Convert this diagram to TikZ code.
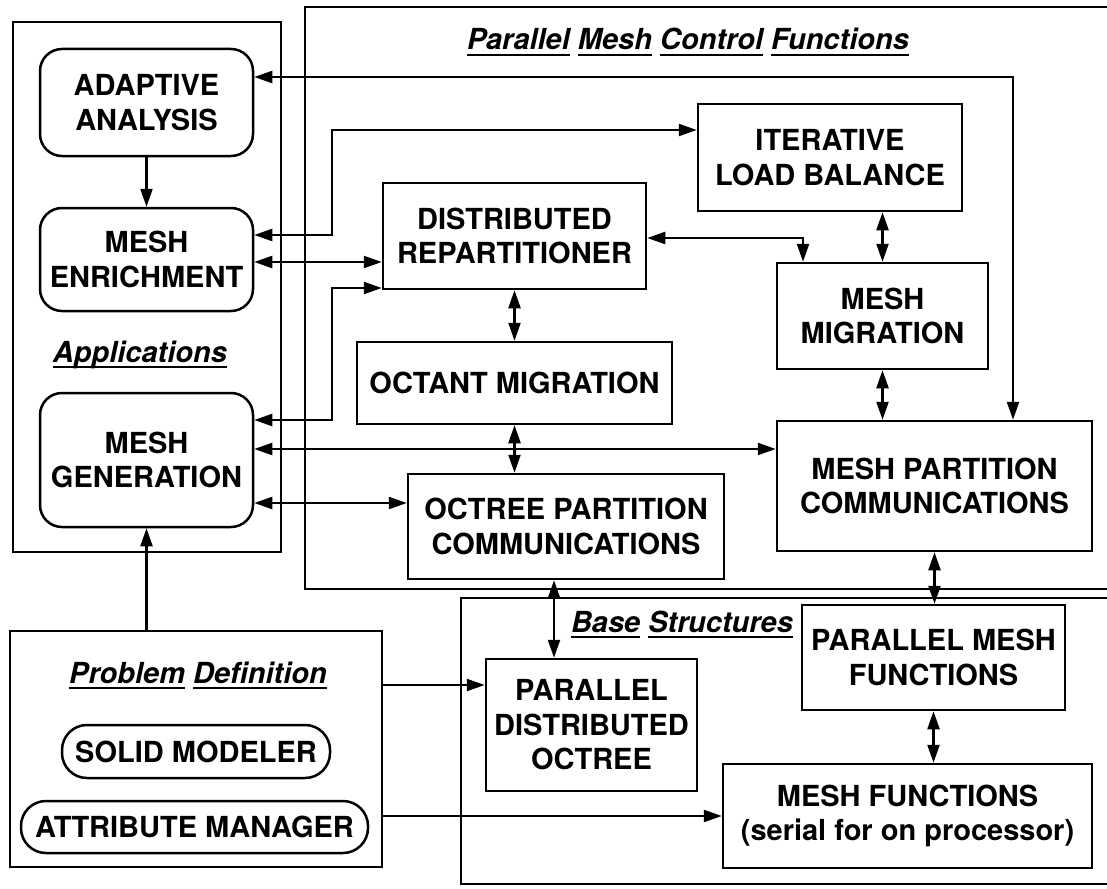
\documentclass[tikz,border=0pt]{standalone}
\usepackage{fontspec}
\setmainfont{TeX Gyre Heros}
\usetikzlibrary{arrows.meta}
\newcommand\lblfont{\fontsize{29}{34.5}\selectfont\bfseries}
\newcommand\uw[1]{\setbox0\hbox{#1}\rlap{\rule[-6pt]{\wd0}{2pt}}\box0{}}
\tikzset{
  mytip/.tip={Triangle[length=18pt,width=12pt]},
  box/.style={draw, line width=2.5pt, inner sep=0pt, align=center, font=\lblfont},
  rbox/.style={box, rounded corners=22pt},
  pill/.style={box, rounded corners=25pt},
  frame/.style={draw, line width=2.5pt},
  title/.style={font=\fontsize{29}{34}\selectfont\bfseries\itshape, anchor=base, inner sep=0pt},
  arr/.style={line width=2.3pt, -mytip},
  darr/.style={line width=2.3pt, mytip-mytip},
}
\begin{document}
\begin{tikzpicture}[x=1pt,y=-1pt]
\useasboundingbox (0,0) rectangle (1107,888);
\fill[white] (0,0) rectangle (1107,888);

% frames
\node[box, minimum width=268, minimum height=530] (APP) at (147,287) {};
\draw[frame] (1107,7) -- (305,7) -- (305,589) -- (1107,589);
\draw[frame] (1107,598) -- (461,598) -- (461,884) -- (1107,884);
\node[box, minimum width=372, minimum height=236] (PD) at (196,749) {};

% titles
\node[title] (tpmc) at (688,50) {\uw{Parallel} \uw{Mesh} \uw{Control} \uw{Functions}};
\node[title] (tapp) at (140,362) {\uw{Applications}};
\node[title] (tbase) at (682,632) {\uw{Base} \uw{Structures}};
\node[title] (tpd) at (198,683) {\uw{Problem} \uw{Definition}};

% nodes
\node[rbox, minimum width=213, minimum height=107] (AA) at (146.5,102.5) {ADAPTIVE\\ANALYSIS};
\node[rbox, minimum width=213, minimum height=103] (ME) at (146.5,259.5) {MESH\\ENRICHMENT};
\node[rbox, minimum width=213, minimum height=134] (MG) at (146.5,460) {MESH\\GENERATION};
\node[box, minimum width=264, minimum height=107] (ILB) at (830,157.5) {ITERATIVE\\LOAD BALANCE};
\node[box, minimum width=263, minimum height=106] (DR) at (514.5,236) {DISTRIBUTED\\REPARTITIONER};
\node[box, minimum width=211, minimum height=106] (MM) at (882.5,316) {MESH\\MIGRATION};
\node[box, minimum width=315, minimum height=82] (OM) at (514.5,383) {OCTANT MIGRATION};
\node[box, minimum width=315, minimum height=130] (MPC) at (934.5,486) {MESH PARTITION\\COMMUNICATIONS};
\node[box, minimum width=316, minimum height=105] (OPC) at (566,526.5) {OCTREE PARTITION\\COMMUNICATIONS};
\node[box, minimum width=263, minimum height=105] (PMF) at (933.5,657.5) {PARALLEL MESH\\FUNCTIONS};
\node[box, minimum width=211, minimum height=132] (PDO) at (591.5,725) {PARALLEL\\DISTRIBUTED\\OCTREE};
\node[box, minimum width=369, minimum height=104] (MF) at (907.5,816) {MESH FUNCTIONS\\(serial for on processor)};
\node[pill, minimum width=268, minimum height=53] (SM) at (196,751.5) {SOLID MODELER};
\node[pill, minimum width=347, minimum height=52] (AM) at (194.5,827) {ATTRIBUTE MANAGER};

% turning points
\coordinate (c1) at (1013,77);
\coordinate (k3a) at (332,235);
\coordinate (k3b) at (332,130);
\coordinate (y262) at (0,262);
\coordinate (k5a) at (332,420);
\coordinate (k5b) at (332,288);
\coordinate (y450) at (0,449);
\coordinate (y505) at (0,503);
\coordinate (k10) at (803,238);
\coordinate (k15) at (554,0);
\coordinate (y685) at (0,685);
\coordinate (y816) at (0,816);

% connectors
\draw[darr] (AA.east |- c1) -- (c1) -- (c1 |- MPC.north);
\draw[arr] (AA.south) -- (ME.north);
\draw[darr] (ME.east |- k3a) -- (k3a) -- (k3b) -- (ILB.west |- k3b);
\draw[darr] (ME.east |- y262) -- (DR.west |- y262);
\draw[darr] (MG.east |- k5a) -- (k5a) -- (k5b) -- (DR.west |- k5b);
\draw[darr] (MG.east |- y450) -- (MPC.west |- y450);
\draw[darr] (MG.east |- y505) -- (OPC.west |- y505);
\draw[darr] (DR.south) -- (OM.north);
\draw[darr] (OM.south) -- (OM.south |- OPC.north);
\draw[darr] (DR.east |- k10) -- (k10) -- (k10 |- MM.north);
\draw[darr] (MM.north |- ILB.south) -- (MM.north);
\draw[darr] (MM.south) -- (MM.south |- MPC.north);
\draw[darr] (MPC.south) -- (MPC.south |- PMF.north);
\draw[darr] (PMF.south) -- (PMF.south |- MF.north);
\draw[darr] (OPC.south -| k15) -- (PDO.north -| k15);
\draw[arr] (MG.south |- PD.north) -- (MG.south);
\draw[arr] (PD.east |- y685) -- (PDO.west |- y685);
\draw[arr] (PD.east |- y816) -- (MF.west |- y816);
\end{tikzpicture}
\end{document}
